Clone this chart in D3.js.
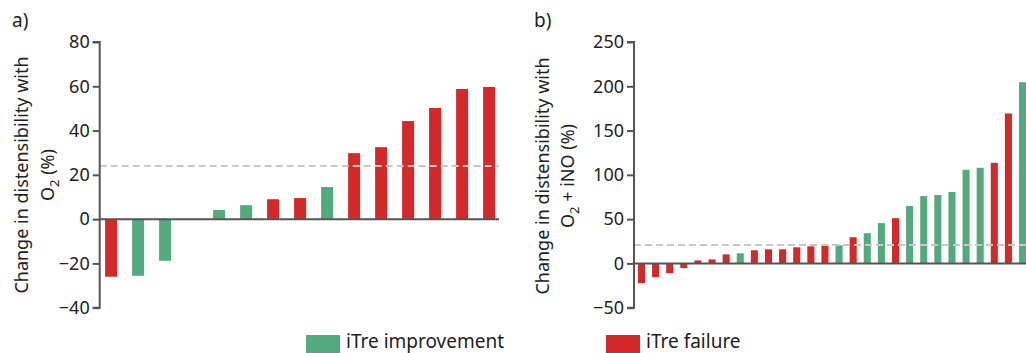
<!DOCTYPE html>
<html><head><meta charset="utf-8">
<script src="https://cdn.jsdelivr.net/npm/d3@7"></script>
<style>
html,body{margin:0;padding:0;background:#fff;}
svg{display:block;font-family:"Noto Sans",sans-serif;}
</style></head>
<body>
<svg id="chart" width="1026" height="353"></svg>
<script>
// Panel a data (O2)
const aCategories = d3.range(1, 16).map(String);
const aValues = [-26, -25.6, -18.8, 0, 4.1, 6.3, 9.0, 9.5, 14.5, 29.8, 32.5, 44.3, 50.2, 58.8, 59.7];
const aGroups = ["failure","improvement","improvement",null,"improvement","improvement","failure","failure","improvement","failure","failure","failure","failure","failure","failure"];
const aThreshold = 24;
const aTicks = [-40, -20, 0, 20, 40, 60, 80];

// Panel b data (O2 + iNO)
const bCategories = d3.range(1, 29).map(String);
const bValues = [-22.3, -15.5, -11, -5.3, 3.4, 4.5, 10.2, 11.4, 14.8, 15.9, 15.9, 18.2, 19.3, 20.5, 20.5, 29.5, 34.1, 45.5, 51.1, 64.8, 76.1, 77.3, 80.7, 105.7, 108, 113.6, 169.3, 204.5];
const bGroups = ["failure","failure","failure","failure","failure","failure","failure","improvement","failure","failure","failure","failure","failure","failure","improvement","failure","improvement","improvement","failure","improvement","improvement","improvement","improvement","improvement","improvement","failure","failure","improvement"];
const bThreshold = 20.8;
const bTicks = [-50, 0, 50, 100, 150, 200, 250];

const legendLabels = ["iTre improvement", "iTre failure"];
const legendKeys = ["improvement", "failure"];

const color = d3.scaleOrdinal().domain(legendKeys).range(["#52aa7e", "#d42829"]);

const svg = d3.select("#chart");
const axisColor = "#555";
const textColor = "#222";

function panel(opts) {
  const g = svg.append("g");
  const x = d3.scaleBand().domain(opts.categories).range(opts.xRange)
    .paddingInner(opts.padIn).paddingOuter(opts.padOut);
  const y = d3.scaleLinear().domain(opts.domain).range(opts.yRange);

  // bars
  g.selectAll("rect.bar").data(opts.values.map((v, i) => ({v, i, grp: opts.groups[i]})).filter(d => d.grp))
    .enter().append("rect").attr("class", "bar")
    .attr("x", d => x(opts.categories[d.i]))
    .attr("width", x.bandwidth())
    .attr("y", d => y(Math.max(0, d.v)))
    .attr("height", d => Math.abs(y(d.v) - y(0)))
    .attr("fill", d => color(d.grp));

  // threshold dashed line
  g.append("line")
    .attr("x1", opts.xRange[0]).attr("x2", opts.lineEnd)
    .attr("y1", y(opts.threshold)).attr("y2", y(opts.threshold))
    .attr("stroke", "#c8c8c8").attr("stroke-width", 2)
    .attr("stroke-dasharray", "7,4");

  // zero line
  g.append("line")
    .attr("x1", opts.xRange[0]).attr("x2", opts.lineEnd)
    .attr("y1", y(0)).attr("y2", y(0))
    .attr("stroke", axisColor).attr("stroke-width", 2);

  // y axis
  const ax = g.append("g").attr("transform", `translate(${opts.xRange[0]},0)`)
    .call(d3.axisLeft(y).tickValues(opts.ticks).tickSize(7).tickPadding(3)
      .tickFormat(d => d < 0 ? "\u2212" + Math.abs(d) : String(d)));
  ax.select(".domain").attr("stroke", axisColor).attr("stroke-width", 2)
    .attr("d", `M-7,${y(opts.domain[1])}H0V${y(opts.domain[0])}H-7`);
  ax.selectAll(".tick line").attr("stroke", axisColor).attr("stroke-width", 2);
  ax.selectAll(".tick text").attr("fill", textColor).style("font-size", "18px")
    .style("font-family", "Noto Sans");

  // y label
  const lab = g.append("text")
    .attr("transform", `translate(${opts.labX},${opts.labY}) rotate(-90)`)
    .attr("text-anchor", "middle").attr("fill", textColor)
    .style("font-size", "18px");
  lab.append("tspan").attr("x", 0).attr("dy", 0).text("Change in distensibility with");
  const t2 = lab.append("tspan").attr("x", 0).attr("dy", opts.labGap);
  t2.append("tspan").text("O");
  t2.append("tspan").attr("dy", 5).style("font-size", "13px").text("2");
  t2.append("tspan").attr("dy", -5).text(opts.labRest);

  // panel letter
  g.append("text").attr("x", opts.letterX).attr("y", 27)
    .attr("fill", textColor).style("font-size", "19px").text(opts.letter);
}

panel({
  categories: aCategories, values: aValues, groups: aGroups,
  threshold: aThreshold, ticks: aTicks, domain: [-40, 80],
  xRange: [99.7, 500.5], padIn: 0.556, padOut: 0.2, lineEnd: 499,
  yRange: [307.7, 42], labX: 28, labY: 175, labGap: 26, labRest: " (%)",
  letter: "a)", letterX: 12
});

panel({
  categories: bCategories, values: bValues, groups: bGroups,
  threshold: bThreshold, ticks: bTicks, domain: [-50, 250],
  xRange: [634, 1030], padIn: 0.5, padOut: 0.28, lineEnd: 1026,
  yRange: [307.7, 42], labX: 549, labY: 176, labGap: 25, labRest: " + iNO (%)",
  letter: "b)", letterX: 534
});

// legend
const legend = svg.append("g");
const legX = [306, 606];
legendKeys.forEach((k, i) => {
  legend.append("rect").attr("x", legX[i]).attr("y", 335).attr("width", 34).attr("height", 18)
    .attr("fill", color(k));
  legend.append("text").attr("x", legX[i] + 40).attr("y", 348)
    .attr("fill", textColor).style("font-size", "19px").text(legendLabels[i]);
});
</script>
</body></html>
